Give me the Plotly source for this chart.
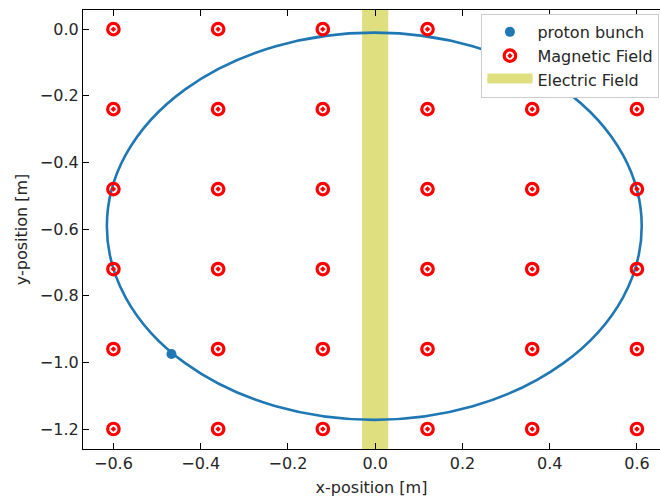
import plotly.graph_objects as go

# Magnetic field grid (x and y positions, m)
field_x = [-0.6, -0.36, -0.12, 0.12, 0.36, 0.6]
field_y = [0.0, -0.24, -0.48, -0.72, -0.96, -1.2]

# proton bunch position (m)
bunch_x = [-0.467]
bunch_y = [-0.975]

# trajectory: center and semi-axes (m)
traj_cx = -0.002
traj_cy = -0.5915
traj_rx = 0.613
traj_ry = 0.581

# electric field gap (m)
gap_x0 = -0.03
gap_x1 = 0.03

# axes
x_range = [-0.6697, 0.6529]
y_range = [-1.26, 0.0575]
x_ticks = [-0.6, -0.4, -0.2, 0.0, 0.2, 0.4, 0.6]
y_ticks = [0.0, -0.2, -0.4, -0.6, -0.8, -1.0, -1.2]

FONT = "DejaVu Sans"
TXT = "#262626"
FS = 16
BAND = "rgba(191,191,0,0.5)"
BAND_SOLID = "#dfdf80"

grid_x = [x for y in field_y for x in field_x]
grid_y = [y for y in field_y for x in field_x]

fig = go.Figure()

fig.add_trace(go.Scatter(
    x=grid_x, y=grid_y, mode="markers", name="Magnetic Field", legendrank=2,
    marker=dict(symbol="circle-open-dot", color="red", size=11.5,
                line=dict(width=3.2, color="red")),
))
fig.add_trace(go.Scatter(
    x=bunch_x, y=bunch_y, mode="markers", name="proton bunch", legendrank=1,
    marker=dict(color="#1f77b4", size=10, line=dict(width=0)),
))
# legend-only entry for the electric field band
fig.add_trace(go.Scatter(
    x=[None], y=[None], mode="lines", fill="toself", fillcolor=BAND_SOLID,
    line=dict(color=BAND_SOLID, width=8),
    name="Electric Field", legendrank=3,
))

fig.add_shape(type="rect", xref="x", yref="paper", x0=gap_x0, x1=gap_x1,
              y0=0, y1=1, fillcolor=BAND, line=dict(width=0), layer="below")
fig.add_shape(type="circle", xref="x", yref="y",
              x0=traj_cx - traj_rx, x1=traj_cx + traj_rx,
              y0=traj_cy - traj_ry, y1=traj_cy + traj_ry,
              line=dict(color="#1f77b4", width=2.6), layer="below")

axis_common = dict(
    showgrid=False, zeroline=False, showline=True, linecolor="black",
    linewidth=1.2, ticks="inside", ticklen=6, tickwidth=1.2, tickcolor="black",
    tickfont=dict(family=FONT, size=FS, color=TXT), tickformat=".1f",
)

fig.update_layout(
    width=660, height=497,
    margin=dict(l=83, r=0, t=10, b=48),
    paper_bgcolor="white", plot_bgcolor="white",
    font=dict(family=FONT, size=FS, color=TXT),
    xaxis=dict(range=x_range, tickvals=x_ticks, mirror="ticks",
               title=dict(text="x-position [m]", font=dict(family=FONT, size=FS, color=TXT), standoff=9),
               **axis_common),
    yaxis=dict(range=y_range, tickvals=y_ticks, mirror=False,
               title=dict(text="y-position [m]", font=dict(family=FONT, size=FS, color=TXT), standoff=8),
               **axis_common),
    legend=dict(x=0.999, y=0.991, xanchor="right", yanchor="top",
                bgcolor="white", bordercolor="#cccccc", borderwidth=1,
                font=dict(family=FONT, size=FS, color=TXT), traceorder="normal",
                itemwidth=45),
    showlegend=True,
)

fig.write_html("out.html")
